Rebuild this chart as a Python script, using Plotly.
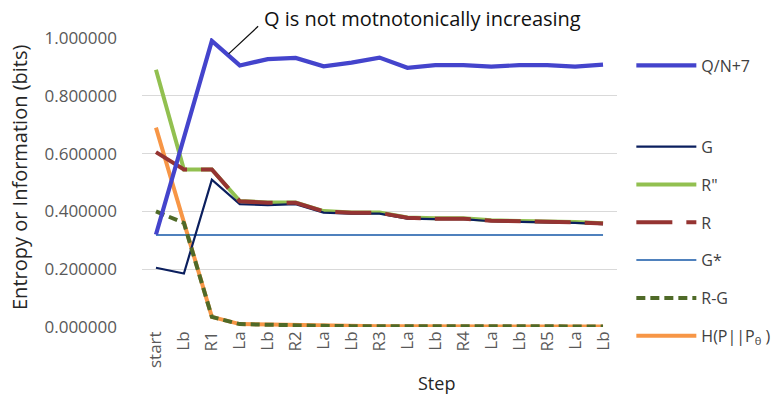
import plotly.graph_objects as go

# Step sequence along the x axis
steps = ["start", "Lb", "R1", "La", "Lb", "R2", "La", "Lb", "R3",
         "La", "Lb", "R4", "La", "Lb", "R5", "La", "Lb"]

q_n7 = [0.320, 0.655, 0.990, 0.905, 0.927, 0.931, 0.902, 0.915, 0.932,
        0.897, 0.906, 0.906, 0.901, 0.906, 0.906, 0.901, 0.908]
g_vals = [0.205, 0.185, 0.510, 0.425, 0.422, 0.425, 0.396, 0.392, 0.392,
          0.375, 0.373, 0.373, 0.366, 0.364, 0.364, 0.360, 0.356]
r2_vals = [0.890, 0.545, 0.545, 0.436, 0.431, 0.431, 0.401, 0.396, 0.396,
           0.379, 0.376, 0.376, 0.369, 0.367, 0.367, 0.363, 0.359]
r_vals = [0.605, 0.545, 0.545, 0.435, 0.430, 0.430, 0.400, 0.395, 0.395,
          0.378, 0.375, 0.375, 0.368, 0.366, 0.366, 0.362, 0.358]
g_star = [0.318] * len(steps)
r_minus_g = [0.400, 0.360, 0.035, 0.010, 0.008, 0.005, 0.004, 0.003, 0.003,
             0.003, 0.002, 0.002, 0.002, 0.002, 0.002, 0.002, 0.002]
h_kl = [0.690, 0.360, 0.035, 0.010, 0.008, 0.006, 0.004, 0.003, 0.003,
        0.003, 0.002, 0.002, 0.002, 0.002, 0.002, 0.002, 0.002]

y_ticks = [0.0, 0.2, 0.4, 0.6, 0.8, 1.0]

x = list(range(len(steps)))
FONT = "Open Sans"
TITLE_COLOR = "#262626"

fig = go.Figure()

def add(name, y, color, width, dash="solid", legend="legend2", rank=1):
    fig.add_trace(go.Scatter(
        x=x, y=y, name=name, mode="lines",
        line=dict(color=color, width=width, dash=dash),
        legend=legend, legendrank=rank, legendgroup=name,
        hoverinfo="skip"))

# drawing order: lower layers first
add("H(P||P<sub>\u03b8</sub> )", h_kl, "#F79646", 4, rank=7)
add("R\"", r2_vals, "#92C050", 4, rank=3)
add("G*", g_star, "#4F81BD", 2, rank=5)
add("G", g_vals, "#0B1F5E", 2.2, rank=2)
add("R", r_vals, "#953432", 4, dash="36px,14px", rank=4)
add("R-G", r_minus_g, "#4F6A28", 4, dash="9px,5px", rank=6)
add("Q/N+7", q_n7, "#4444CC", 4.2, legend="legend", rank=1)

# plot-area pixel edges, used to place free text in paper coordinates
PLOT_L, PLOT_R, PLOT_T, PLOT_B = 142, 617, 38, 327
def px_x(p):
    return (p - PLOT_L) / (PLOT_R - PLOT_L)
def px_y(p):
    return (PLOT_B - p) / (PLOT_B - PLOT_T)

# callout line pointing at the dip after R1
fig.add_annotation(
    x=2.6, y=0.945, xref="x", yref="y", text="",
    showarrow=True, arrowhead=0, arrowwidth=1.3, arrowcolor="#111111",
    ax=31, ay=-29)
fig.add_annotation(
    x=px_x(262), y=px_y(18), xref="paper", yref="paper",
    text="Q is not motnotonically increasing", showarrow=False,
    xanchor="left", yanchor="middle",
    font=dict(family=FONT, size=20, color="#111111"))

fig.add_annotation(
    x=px_x(436), y=px_y(383), xref="paper", yref="paper",
    text="Step", showarrow=False, xanchor="center", yanchor="middle",
    font=dict(family=FONT, size=18, color=TITLE_COLOR))
fig.add_annotation(
    x=px_x(19), y=px_y(177), xref="paper", yref="paper",
    text="Entropy or Information (bits)", showarrow=False, textangle=-90,
    xanchor="center", yanchor="middle",
    font=dict(family=FONT, size=20, color=TITLE_COLOR))

fig.update_layout(
    width=778, height=397,
    margin=dict(l=PLOT_L, r=778 - PLOT_R, t=PLOT_T, b=397 - PLOT_B),
    paper_bgcolor="white", plot_bgcolor="white",
    font=dict(family=FONT, color="#595959"),
    legend=dict(xref="container", yref="container", x=0.8115, y=0.835,
                xanchor="left", yanchor="middle", itemwidth=60,
                font=dict(family=FONT, size=16, color="#404040"),
                bgcolor="rgba(0,0,0,0)"),
    legend2=dict(xref="container", yref="container", x=0.8115, y=0.673,
                 xanchor="left", yanchor="top", itemwidth=60,
                 traceorder="grouped", tracegroupgap=14, maxheight=380,
                 font=dict(family=FONT, size=16, color="#404040"),
                 bgcolor="rgba(0,0,0,0)"),
    showlegend=True,
)

fig.update_xaxes(
    range=[-0.5, len(steps) - 0.5],
    tickmode="array", tickvals=x, ticktext=steps, tickangle=-90,
    tickfont=dict(family=FONT, size=17, color="#595959"),
    showgrid=False, zeroline=False, showline=False, ticks="")

fig.update_yaxes(
    range=[0, 1.0],
    tickmode="array", tickvals=y_ticks,
    ticktext=[f"{v:.6f}" for v in y_ticks],
    tickfont=dict(family=FONT, size=17, color="#595959"),
    showgrid=True, gridcolor="#D9D9D9", gridwidth=1,
    zeroline=False, showline=False, ticks="", ticklabelstandoff=24)

fig.write_html("out.html")
